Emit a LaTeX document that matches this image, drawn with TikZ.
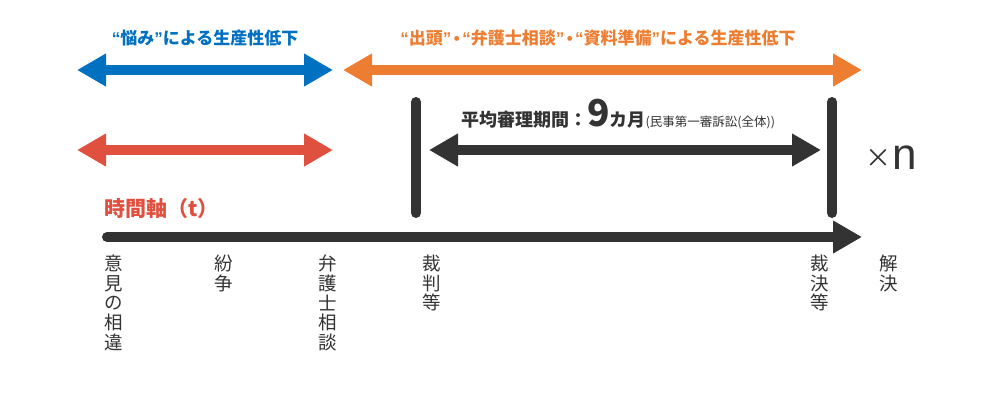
\documentclass[tikz,border=0pt]{standalone}
\usepackage{fontspec}
\setmainfont{Noto Sans CJK JP}
\newfontfamily\lat{Liberation Sans}
\usetikzlibrary{arrows.meta}
\definecolor{cblue}{HTML}{0070C0}
\definecolor{corange}{HTML}{ED7D31}
\definecolor{cred}{HTML}{E0503F}
\definecolor{cdark}{HTML}{333333}
\newcommand{\ql}{{\lat\bfseries\char"201C}}
\newcommand{\qr}{{\lat\bfseries\char"201D}}
\newcommand{\mdot}{\hspace{2.5pt}{\lat\bfseries\char"2022}\hspace{2.5pt}}
\tikzset{
  tipA/.tip={Triangle[length=29pt,width=31pt]},
  dblarrow/.style={line width=10pt, tipA-tipA},
  onearrow/.style={line width=10pt, line cap=round, -tipA},
  bar/.style={line width=10pt, line cap=round, cdark},
  head/.style={font=\fontsize{17}{20}\selectfont\bfseries, inner sep=0pt},
  vlab/.style={font=\fontsize{18.5}{19.6}\selectfont, align=center, anchor=north, inner sep=0pt, text=cdark},
}
\begin{document}
\begin{tikzpicture}[x=1pt,y=-1pt]
\useasboundingbox (0,0) rectangle (990,400);
% top arrows
\coordinate (bl) at (77,70); \coordinate (br) at (333,70);
\coordinate (ol) at (343,70); \coordinate (or) at (862,70);
\draw[dblarrow, cblue] (bl) -- (br);
\draw[dblarrow, corange] (ol) -- (or);
\node[head, text=cblue] (tb) at (205,38) {\ql 悩み\qr による生産性低下};
\node[head, text=corange] (to) at (598,38) {\ql 出頭\qr\mdot\ql 弁護士相談\qr\mdot\ql 資料準備\qr による生産性低下};
% red arrow
\coordinate (rl) at (77,150); \coordinate (rr) at (333,150);
\draw[dblarrow, cred] (rl) -- (rr);
% bars
\coordinate (b1t) at (416,102); \coordinate (b1b) at (416,213);
\coordinate (b2t) at (832,102); \coordinate (b2b) at (832,213);
\draw[bar] (b1t) -- (b1b);
\draw[bar] (b2t) -- (b2b);
% period arrow
\coordinate (pl) at (429,150); \coordinate (pr) at (821,150);
\draw[dblarrow, cdark] (pl) -- (pr);
\node[anchor=base west, inner sep=0pt, text=cdark] (pt) at (461,126)
  {\fontsize{18}{20}\selectfont\bfseries 平均審理期間：\fontsize{37}{37}\selectfont 9\fontsize{18}{20}\selectfont カ月\fontsize{12.5}{14}\selectfont\mdseries (民事第一審訴訟(全体))};
\node[anchor=center, inner sep=0pt, text=cdark, font=\fontsize{26}{26}\selectfont] (xx) at (878,158) {×};
\node[anchor=base west, inner sep=0pt, text=cdark, font=\lat\fontsize{44}{44}\selectfont] (nn) at (892,169) {n};
% time axis
\node[anchor=base west, inner sep=0pt, text=cred, font=\fontsize{21}{23}\selectfont\bfseries] (ta) at (104,216) {時間軸（t）};
\coordinate (al) at (107,237); \coordinate (ar) at (862,237);
\draw[onearrow, cdark] (al) -- (ar);
% labels
\node[vlab] (l1) at (114,255) {意\\見\\の\\相\\違};
\node[vlab] (l2) at (224,255) {紛\\争};
\node[vlab] (l3) at (328,255) {弁\\護\\士\\相\\談};
\node[vlab] (l4) at (432,255) {裁\\判\\等};
\node[vlab] (l5) at (820,255) {裁\\決\\等};
\node[vlab] (l6) at (889,255) {解\\決};
\end{tikzpicture}
\end{document}
